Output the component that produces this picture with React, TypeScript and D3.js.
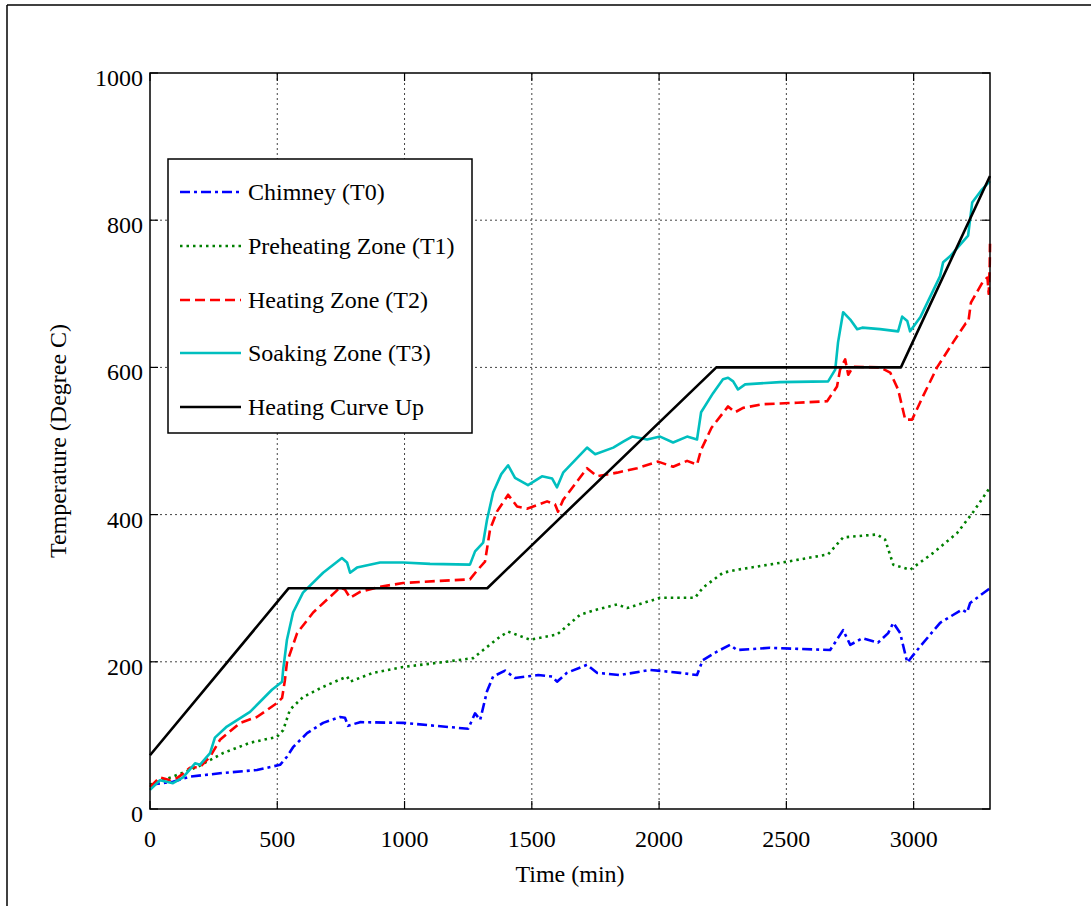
import React from "react";
import * as d3 from "d3";

type Pt = [number, number];

const xTicks = [0, 500, 1000, 1500, 2000, 2500, 3000];
const yTicks = [0, 200, 400, 600, 800, 1000];

const chimneyT0: Pt[] = [[0,33],[90,37],[157,44],[287,49],[420,53],[511,60],[538,71],[562,84],[617,103],[680,117],[747,125],[766,124],[778,113],[825,118],[994,117],[1250,109],[1277,130],[1297,121],[1324,160],[1348,180],[1395,188],[1434,178],[1525,182],[1580,180],[1599,173],[1638,185],[1717,196],[1756,185],[1847,182],[1965,189],[2082,185],[2149,182],[2171,202],[2228,214],[2279,223],[2306,216],[2436,219],[2672,216],[2723,243],[2751,223],[2798,232],[2860,226],[2900,239],[2920,253],[2947,239],[2975,199],[3026,221],[3104,253],[3190,271],[3210,267],[3222,280],[3292,298],[3300,300]];

const preheatingT1: Pt[] = [[0,33],[90,44],[185,57],[287,76],[393,90],[499,98],[523,107],[550,135],[601,152],[680,166],[774,180],[786,173],[876,185],[994,193],[1139,199],[1269,205],[1309,216],[1375,234],[1407,241],[1493,230],[1599,237],[1690,264],[1756,271],[1835,278],[1874,273],[2004,287],[2141,287],[2173,301],[2251,321],[2306,325],[2503,336],[2664,346],[2723,369],[2856,373],[2888,366],[2920,332],[2986,325],[3077,348],[3171,375],[3233,403],[3300,437]];

const heatingT2: Pt[] = [[0,30],[39,43],[79,39],[106,42],[130,48],[157,56],[196,57],[236,71],[275,94],[354,117],[420,125],[499,144],[519,151],[530,175],[538,199],[578,239],[641,267],[747,301],[766,298],[786,287],[825,295],[904,302],[994,307],[1139,310],[1257,312],[1285,324],[1316,336],[1336,380],[1363,404],[1407,427],[1442,411],[1481,408],[1560,418],[1591,414],[1603,404],[1623,420],[1717,463],[1756,452],[1835,457],[1914,463],[1996,472],[2055,465],[2110,473],[2149,468],[2165,488],[2206,518],[2271,547],[2298,539],[2330,545],[2408,550],[2542,552],[2660,554],[2699,574],[2711,597],[2731,611],[2743,590],[2762,601],[2868,600],[2908,593],[2939,570],[2967,529],[2994,529],[3037,561],[3092,600],[3155,634],[3205,660],[3215,662],[3225,688],[3273,717],[3290,722],[3295,700],[3299,740],[3300,768]];

const soakingT3: Pt[] = [[0,26],[39,39],[90,35],[130,43],[177,62],[196,60],[236,76],[255,97],[302,112],[393,132],[479,162],[519,173],[523,189],[538,230],[562,267],[601,294],[680,321],[754,341],[774,335],[786,321],[813,328],[904,335],[994,335],[1100,333],[1257,332],[1277,350],[1309,362],[1324,393],[1348,430],[1380,455],[1407,467],[1434,450],[1485,440],[1540,452],[1580,449],[1599,437],[1623,457],[1717,491],[1749,482],[1820,491],[1859,499],[1894,506],[1953,502],[2004,506],[2055,498],[2110,506],[2149,502],[2165,539],[2212,565],[2251,584],[2271,586],[2291,581],[2310,570],[2338,577],[2475,580],[2664,581],[2692,597],[2703,634],[2723,675],[2751,665],[2778,652],[2798,654],[2868,652],[2939,649],[2955,669],[2975,663],[2986,649],[3026,668],[3104,724],[3116,743],[3143,751],[3214,779],[3230,824],[3269,842],[3300,853]];

const heatingCurveUp: Pt[] = [[0,73],[545,300],[1325,300],[2225,600],[2950,600],[3300,860]];

const seriesNames = ["Chimney (T0)", "Preheating Zone (T1)", "Heating Zone (T2)", "Soaking Zone (T3)", "Heating Curve Up"];

export default function App() {
  const W = 1091, H = 906;
  const L = 150, R = 990, T = 73, B = 809;
  const x = d3.scaleLinear().domain([0, 3300]).range([L, R]);
  const y = d3.scaleLinear().domain([0, 1000]).range([B, T]);
  const line = d3.line<Pt>().x(d => x(d[0])).y(d => y(d[1]));
  const font = "'Liberation Serif', 'Times New Roman', serif";

  const series = [
    { name: seriesNames[0], data: chimneyT0, color: "#0000ff", dash: "10 4 3 4" },
    { name: seriesNames[1], data: preheatingT1, color: "#008000", dash: "2.5 4" },
    { name: seriesNames[2], data: heatingT2, color: "#ff0000", dash: "10 5" },
    { name: seriesNames[3], data: soakingT3, color: "#00bfbf", dash: "" },
    { name: seriesNames[4], data: heatingCurveUp, color: "#000000", dash: "" },
  ];
  const legendRows = [192, 246, 300, 353, 407];
  const tl = 8;

  return (
    <svg width={W} height={H} style={{ position: "absolute", left: 0, top: 0, background: "#fff" }} fontFamily={font}>
      <rect x={0} y={0} width={W} height={H} fill="#fff" />
      {/* outer frame */}
      <line x1={7} y1={5} x2={W} y2={5} stroke="#000" strokeWidth={1.5} />
      <line x1={7} y1={5} x2={7} y2={H} stroke="#000" strokeWidth={1.5} />
      {/* grid */}
      {xTicks.filter(t => t > 0).map(t => (
        <line key={"gx" + t} x1={x(t)} x2={x(t)} y1={T} y2={B} stroke="#444" strokeWidth={1} strokeDasharray="2 3" />
      ))}
      {yTicks.filter(t => t > 0 && t < 1000).map(t => (
        <line key={"gy" + t} x1={L} x2={R} y1={y(t)} y2={y(t)} stroke="#444" strokeWidth={1} strokeDasharray="2 3" />
      ))}
      {/* ticks */}
      {xTicks.map(t => (
        <g key={"tx" + t}>
          <line x1={x(t)} x2={x(t)} y1={B} y2={B - tl} stroke="#000" strokeWidth={1.2} />
          <line x1={x(t)} x2={x(t)} y1={T} y2={T + tl} stroke="#000" strokeWidth={1.2} />
          <text x={x(t)} y={B + 38} fontSize={24} textAnchor="middle">{t}</text>
        </g>
      ))}
      {yTicks.map(t => (
        <g key={"ty" + t}>
          <line x1={L} x2={L + tl} y1={y(t)} y2={y(t)} stroke="#000" strokeWidth={1.2} />
          <line x1={R} x2={R - tl} y1={y(t)} y2={y(t)} stroke="#000" strokeWidth={1.2} />
          <text x={L - 7} y={y(t) + 13} fontSize={24} textAnchor="end">{t}</text>
        </g>
      ))}
      {/* series */}
      {series.map(s => (
        <path key={s.name} d={line(s.data) || ""} fill="none" stroke={s.color} strokeWidth={2.6}
          strokeDasharray={s.dash || undefined} strokeLinejoin="round" />
      ))}
      {/* axes box */}
      <rect x={L} y={T} width={R - L} height={B - T} fill="none" stroke="#000" strokeWidth={1.5} />
      {/* legend */}
      <rect x={168} y={159} width={304} height={274} fill="#fff" stroke="#000" strokeWidth={1.5} />
      {series.map((s, i) => (
        <g key={"lg" + s.name}>
          <line x1={180} x2={241} y1={legendRows[i]} y2={legendRows[i]} stroke={s.color} strokeWidth={2.6}
            strokeDasharray={s.dash || undefined} />
          <text x={248} y={legendRows[i] + 8} fontSize={24}>{s.name}</text>
        </g>
      ))}
      {/* axis labels */}
      <text x={(L + R) / 2} y={882} fontSize={24} textAnchor="middle">Time (min)</text>
      <text transform={`translate(66, ${(T + B) / 2}) rotate(-90)`} fontSize={24} textAnchor="middle">Temperature (Degree C)</text>
    </svg>
  );
}
